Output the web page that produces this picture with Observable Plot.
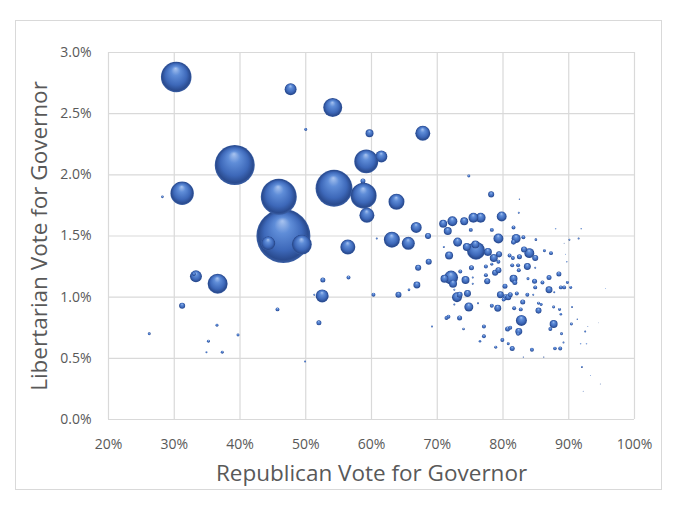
<!DOCTYPE html>
<html>
<head>
<meta charset="utf-8">
<script src="https://cdn.jsdelivr.net/npm/d3@7"></script>
<script src="https://cdn.jsdelivr.net/npm/@observablehq/plot@0.6"></script>
<style>
  html, body { margin: 0; padding: 0; background: #fff; width: 680px; height: 510px; overflow: hidden; }
  #frame { position: absolute; left: 15px; top: 20px; width: 645px; height: 468px; border: 1px solid #d9d9d9; background: #fff; }
  #frame svg { display: block; }
</style>
</head>
<body>
<div id="frame"></div>
<script>
// Republican vote share (%), Libertarian vote share (%), total votes (thousands) per county
const rep = [
  30.3, 47.7, 54.1, 50.0, 39.2, 31.2, 28.2, 45.9, 54.3, 46.6, 49.4, 44.3, 56.4, 59.7, 67.8, 59.2, 61.5, 58.7, 58.8, 63.8,
  59.3, 66.8, 68.6, 60.8, 63.1, 65.6, 33.3, 33.0, 36.6, 31.2, 26.2, 36.5, 35.2, 39.7, 34.9, 37.3, 45.7, 49.9, 52.6, 52.5,
  51.3, 52.0, 56.5, 60.3, 64.1, 65.7, 66.9, 68.7, 67.1,
  74.8, 78.2, 82.5, 82.4, 79.8, 76.6, 75.5, 74.1, 72.3, 70.9, 71.6, 75.1, 78.3, 81.6, 88.0, 91.9, 79.3, 82.0, 83.1, 85.0,
  81.6, 86.3, 87.3, 90.1, 91.5, 89.3, 84.0, 83.2, 75.9, 73.1, 74.5, 75.8, 77.7, 79.4, 78.6, 71.8, 71.0, 81.0, 82.5, 84.9,
  89.5, 72.1, 71.1, 72.4, 73.5, 74.3, 75.2, 75.4, 74.6, 73.0, 72.6, 73.4, 74.8, 72.6, 76.2, 71.4, 71.7, 73.4, 74.0, 69.2,
  77.4, 77.4, 77.6, 78.8, 79.3, 78.3, 79.2, 79.6, 80.3, 80.4, 80.8, 80.1, 81.6, 81.8, 81.1, 82.1, 83.0, 81.7, 82.7, 83.7,
  83.8, 84.8, 84.9, 83.7, 84.6, 86.0, 87.0, 87.0, 87.8, 88.5, 88.8, 89.3, 89.8, 90.3, 89.7, 95.6, 82.8, 82.4, 82.3, 80.7,
  81.1, 79.9, 80.8, 81.4, 78.9, 77.1, 77.1, 76.5, 83.1, 84.4, 86.2, 87.9, 88.7, 85.4, 85.8, 85.4, 87.7, 88.6, 88.8, 87.7,
  87.2, 88.9, 89.2, 90.4, 90.5, 91.3, 92.9, 92.5, 91.8, 92.7, 94.5, 92.0, 93.3, 94.8, 92.2, 84.9, 75.4, 78.3, 79.3, 81.4,
  82.3, 82.4, 81.5
];
const lib = [
  2.80, 2.70, 2.55, 2.37, 2.08, 1.85, 1.82, 1.82, 1.89, 1.50, 1.43, 1.44, 1.41, 2.34, 2.34, 2.11, 2.15, 1.95, 1.83, 1.78,
  1.67, 1.57, 1.50, 1.48, 1.47, 1.44, 1.17, 1.19, 1.11, 0.93, 0.70, 0.77, 0.64, 0.69, 0.55, 0.55, 0.90, 0.475, 1.14, 1.01,
  1.02, 0.79, 1.16, 1.02, 1.02, 1.06, 1.10, 1.29, 1.24,
  1.99, 1.84, 1.80, 1.69, 1.66, 1.65, 1.65, 1.62, 1.62, 1.60, 1.54, 1.55, 1.55, 1.57, 1.56, 1.56, 1.48, 1.48, 1.49, 1.47,
  1.45, 1.38, 1.36, 1.47, 1.48, 1.44, 1.36, 1.39, 1.38, 1.45, 1.41, 1.43, 1.37, 1.35, 1.32, 1.34, 1.41, 1.34, 1.33, 1.32,
  1.35, 1.16, 1.15, 1.11, 1.21, 1.14, 1.24, 1.11, 1.03, 1.00, 1.06, 1.02, 0.92, 0.94, 0.95, 0.83, 0.84, 0.83, 0.74, 0.76,
  1.25, 1.18, 1.13, 1.20, 1.22, 0.93, 0.91, 1.02, 1.09, 1.00, 1.00, 0.98, 1.15, 1.12, 1.02, 1.03, 0.96, 0.91, 0.90, 1.25,
  1.15, 1.13, 1.08, 1.02, 1.02, 1.12, 1.16, 1.06, 1.04, 1.19, 1.08, 1.08, 1.12, 1.08, 1.29, 1.07, 0.81, 0.72, 0.70, 0.74,
  0.75, 0.65, 0.62, 0.58, 0.59, 0.76, 0.68, 0.64, 0.51, 0.57, 0.51, 0.58, 0.58, 0.89, 0.94, 0.95, 0.92, 0.90, 0.86, 0.78,
  0.74, 0.70, 0.63, 0.78, 0.92, 0.82, 0.76, 0.72, 0.62, 0.62, 0.79, 0.43, 0.36, 0.29, 0.23, 1.24, 1.16, 1.27, 1.29, 1.26,
  1.26, 1.22, 1.32
];
const votes = [
  482, 74, 186, 4.6, 823, 282, 3.5, 667, 700, 1500, 206, 101, 116, 33, 116, 296, 74, 13, 348, 132,
  116, 62, 19, 2, 132, 87, 74, 8, 206, 19, 4.6, 4.6, 4.6, 4.6, 2, 4.6, 8, 2, 13, 87,
  2, 13, 8, 8, 19, 3.5, 25, 19, 19,
  4.6, 19, 1, 2, 51, 51, 51, 33, 51, 33, 33, 8, 8, 8, 1, 1, 51, 42, 8, 3.5,
  13, 4.6, 8, 2, 2, 0.5, 51, 19, 167, 42, 33, 33, 33, 19, 33, 33, 2, 8, 13, 19,
  0.5, 101, 33, 33, 8, 33, 13, 2, 25, 51, 2, 19, 42, 2, 2, 8, 8, 13, 3.5, 2,
  8, 8, 19, 19, 19, 8, 25, 25, 13, 19, 19, 8, 33, 13, 13, 8, 13, 8, 8, 25,
  4.6, 13, 8, 8, 2, 8, 13, 25, 2, 13, 8, 8, 4.6, 4.6, 1, 0.5, 62, 25, 8, 13,
  8, 8, 4.6, 13, 4.6, 8, 8, 3.5, 1, 8, 1, 6.7, 8, 19, 4.6, 4.6, 4.6, 4.6, 3.5, 33,
  8, 4.6, 2, 4.6, 2, 1, 0.5, 2, 1, 1, 0.2, 2, 0.5, 0.5, 0.5, 2, 2, 4.6, 8, 8,
  8, 8, 8
];
const xTicks = [20, 30, 40, 50, 60, 70, 80, 90, 100];
const yTicks = [0, 0.5, 1.0, 1.5, 2.0, 2.5, 3.0];
const xTitle = "Republican Vote for Governor";
const yTitle = "Libertarian Vote for Governor";

const data = rep.map((r, i) => ({rep: r, lib: lib[i], votes: votes[i]}));

const grid = "#d9d9d9";
const textColor = "#595959";

const chart = Plot.plot({
  width: 645,
  height: 468,
  marginLeft: 92,
  marginTop: 31,
  marginRight: 27,
  marginBottom: 70,
  style: {fontFamily: "'Open Sans', sans-serif", fontSize: "14px", color: textColor, background: "white", overflow: "visible"},
  x: {domain: [20, 100], label: null},
  y: {domain: [0, 3], label: null},
  r: {range: [0, 27]},
  marks: [
    Plot.gridX(xTicks, {stroke: grid, strokeOpacity: 1, strokeWidth: 1.2}),
    Plot.gridY(yTicks, {stroke: grid, strokeOpacity: 1, strokeWidth: 1.2}),
    Plot.axisX(xTicks, {tickSize: 0, tickPadding: 20, tickFormat: d => d + "%", fill: textColor, label: null}),
    Plot.axisY(yTicks, {tickSize: 0, tickPadding: 17, tickFormat: d => d.toFixed(1) + "%", fill: textColor, label: null}),
    Plot.dot(data, {x: "rep", y: "lib", r: "votes", fill: "url(#ball)", stroke: "none"}),
    Plot.text([xTitle], {frameAnchor: "bottom", dy: 61, fontSize: 22.5, fill: textColor}),
    Plot.text([yTitle], {frameAnchor: "left", textAnchor: "middle", dx: -69, rotate: -90, fontSize: 22.5, fill: textColor})
  ]
});

const defs = d3.select(chart).insert("defs", ":first-child");
const g = defs.append("radialGradient")
  .attr("id", "ball")
  .attr("cx", "50%").attr("cy", "50%").attr("r", "50%")
  .attr("fx", "48%").attr("fy", "22%");
[
  ["0%", "#a9c4f0"],
  ["30%", "#5f8dd8"],
  ["70%", "#3d68b9"],
  ["92%", "#2a4b8f"],
  ["100%", "#3a5fa5"]
].forEach(([o, c]) => g.append("stop").attr("offset", o).attr("stop-color", c));

document.getElementById("frame").appendChild(chart);
</script>
</body>
</html>
